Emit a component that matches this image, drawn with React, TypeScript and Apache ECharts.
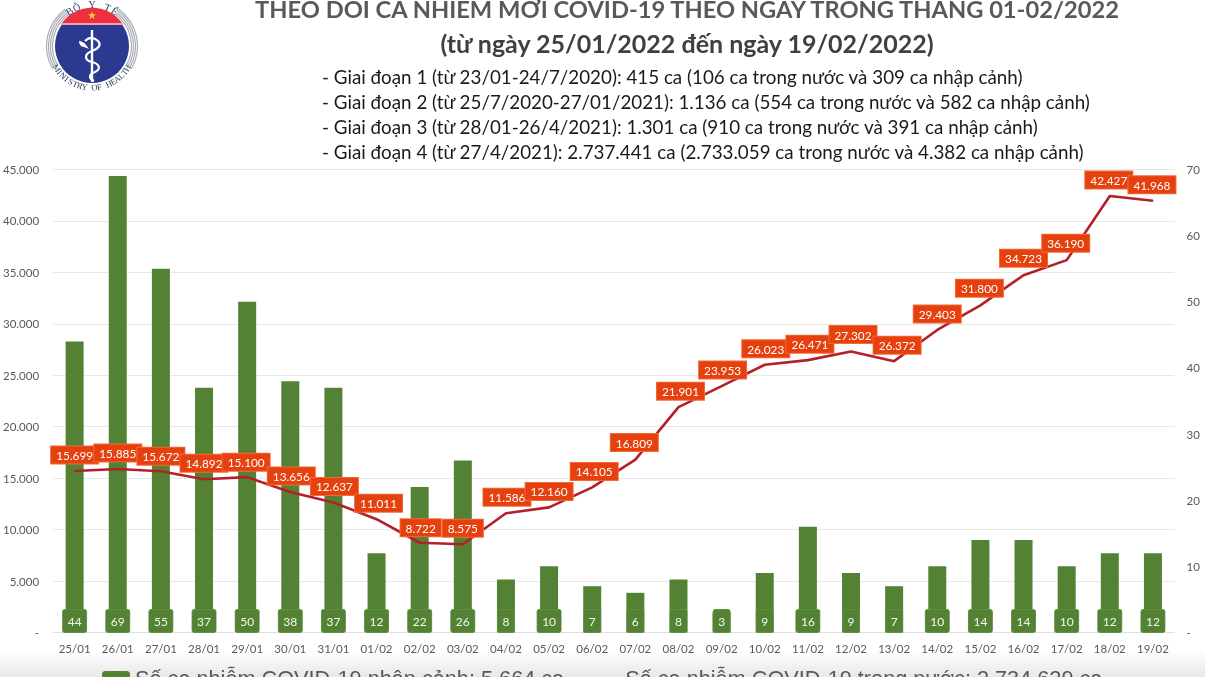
import React, { useEffect, useRef } from "react";
import * as echarts from "echarts";

const categories = ["25/01","26/01","27/01","28/01","29/01","30/01","31/01","01/02","02/02","03/02","04/02","05/02","06/02","07/02","08/02","09/02","10/02","11/02","12/02","13/02","14/02","15/02","16/02","17/02","18/02","19/02"];
const importedCases = [44,69,55,37,50,38,37,12,22,26,8,10,7,6,8,3,9,16,9,7,10,14,14,10,12,12];
const domesticCases = [15699,15885,15672,14892,15100,13656,12637,11011,8722,8575,11586,12160,14105,16809,21901,23953,26023,26471,27302,26372,29403,31800,34723,36190,42427,41968];
const labelDx = [0,0,0,0,-1,1,1,2,1,0,1,0,2,-1,2,1,1,2,2,3,0,-1,0,-1,-1,-1];
const labelDy = [0,0,1,0,1,0,0,0,1,0,0,0,0,-1,0,0,0,0,-1,0,0,-1,-1,-1,0,0];
const titleLines = ["THEO DÕI CA NHIỄM MỚI COVID-19 THEO NGÀY TRONG THÁNG 01-02/2022","(từ ngày 25/01/2022 đến ngày 19/02/2022)"];
const phaseLines = [
  "- Giai đoạn 1 (từ 23/01-24/7/2020): 415 ca (106 ca trong nước và 309 ca nhập cảnh)",
  "- Giai đoạn 2 (từ 25/7/2020-27/01/2021): 1.136 ca (554 ca trong nước và 582 ca nhập cảnh)",
  "- Giai đoạn 3 (từ 28/01-26/4/2021): 1.301 ca (910 ca trong nước và 391 ca nhập cảnh)",
  "- Giai đoạn 4 (từ 27/4/2021): 2.737.441 ca (2.733.059 ca trong nước và 4.382 ca nhập cảnh)",
];
const importedName = "Số ca nhiễm COVID-19 nhập cảnh: 5.664 ca";
const domesticName = "Số ca nhiễm COVID-19 trong nước: 2.734.629 ca";
const FONT = "Lato, 'Open Sans', sans-serif";

echarts.graphic.registerShape("snake", echarts.graphic.extendPath("M-7 4 C-2 -1 3 1 6 4 C10 8 6 12 0 14 C-8 17 -8 23 0 25 C8 27 9 32 3 35 C-3 37 -4 41 2 44", {}));
echarts.graphic.registerShape("leaf", echarts.graphic.extendPath("M0 8 L3 4 C5 1 8 0 10 0 C10 3 8 6 5 6 Z", {}));
echarts.graphic.registerShape("star5", echarts.graphic.extendPath("M0 -4 L1 -1.2 L4 -1.2 L1.6 0.6 L2.5 3.4 L0 1.7 L-2.5 3.4 L-1.6 0.6 L-4 -1.2 L-1 -1.2 Z", {}));
echarts.graphic.registerShape("redCap", echarts.graphic.extendPath("M-30 0 A 37 37 0 0 1 30 0 Z", {}));

function curved(text: string, cx: number, cy: number, r: number, mid: number, step: number, top: boolean, size: number) {
  const n = text.length;
  return text.split("").map((ch, i) => {
    const a = mid + (i - (n - 1) / 2) * step * (top ? -1 : 1);
    const rad = (a * Math.PI) / 180;
    return {
      type: "text", x: cx + r * Math.cos(rad), y: cy - r * Math.sin(rad),
      rotation: ((top ? a - 90 : a + 90) * Math.PI) / 180,
      style: { text: ch, fontSize: size, fontFamily: "'Liberation Serif', serif", fill: "#2e3a5c", textAlign: "center", textVerticalAlign: "middle" },
    };
  });
}

function logo() {
  const cx = 92, cy = 46;
  const arcs: any[] = [];
  [39.5, 41.5, 43.5, 45.5].forEach((r) => {
    [[150, 234], [-54, 30]].forEach(([s, e]) => {
      arcs.push({ type: "arc", shape: { cx, cy, r, startAngle: (s * Math.PI) / 180, endAngle: (e * Math.PI) / 180, clockwise: true }, style: { stroke: "#a9adb5", lineWidth: 1.2, fill: "none" } });
    });
  });
  return [
    ...arcs,
    { type: "circle", shape: { cx, cy, r: 37 }, style: { fill: "#2b3990" } },
    { type: "redCap", x: cx, y: 23, style: { fill: "#ee2f3d" } },
    { type: "rect", shape: { x: cx - 31, y: 23, width: 62, height: 2 }, style: { fill: "#f2a0ae" } },
    { type: "star5", x: cx, y: 15.5, style: { fill: "#f7d23a" } },
    { type: "line", shape: { x1: cx, y1: 30, x2: cx, y2: 82 }, style: { stroke: "#fff", lineWidth: 2.4 } },
    { type: "snake", x: cx, y: 37, style: { stroke: "#fff", lineWidth: 2.2, fill: "none" } },
    { type: "leaf", x: cx - 13, y: 41, scaleX: -1, scaleY: 1, originX: 5, style: { fill: "#fff" } },
    ...curved("BỘ Y TẾ", cx, cy, 41.5, 90, 11, true, 10),
    ...curved("MINISTRY OF HEALTH", cx, cy, 41.5, 270, 6.8, false, 8.5),
  ];
}

const texts = () => [
  { type: "rect", z: -10, shape: { x: 0, y: 650, width: 1205, height: 27 }, style: { fill: new echarts.graphic.LinearGradient(0, 0, 0, 1, [{ offset: 0, color: "#ffffff" }, { offset: 1, color: "#e8e8e8" }]) } },
  ...logo(),
  { type: "text", x: 687, y: 9, style: { text: titleLines[0], font: `bold 23.7px ${FONT}`, fill: "#595959", textAlign: "center", textVerticalAlign: "middle" } },
  { type: "text", x: 687, y: 43, style: { text: titleLines[1], font: `bold 25px ${FONT}`, fill: "#404040", textAlign: "center", textVerticalAlign: "middle" } },
  ...phaseLines.map((t, i) => ({ type: "text", x: 322, y: 76 + i * 25, style: { text: t, font: `18.8px ${FONT}`, fill: "#1a1a1a", textAlign: "left", textVerticalAlign: "middle" } })),
];

export default function App() {
  const ref = useRef<HTMLDivElement>(null);
  useEffect(() => {
    const chart = echarts.init(ref.current!, undefined, { renderer: "svg" });
    const axisText = { color: "#595959", fontSize: 11.5, fontFamily: FONT };
    chart.setOption({
      animation: false,
      backgroundColor: "#fff",
      grid: { left: 51.5, right: 30.5, top: 169.5, bottom: 44.5 },
      legend: {
        left: 97, top: 662, itemWidth: 28, itemHeight: 14, itemGap: 27,
        textStyle: { color: "#595959", fontSize: 21.7, fontFamily: "'Liberation Sans', sans-serif" },
        data: [importedName, { name: domesticName, itemStyle: { opacity: 0 }, lineStyle: { opacity: 0 } }],
      },
      xAxis: {
        type: "category", data: categories,
        axisLine: { lineStyle: { color: "#dedede" } }, axisTick: { show: false },
        axisLabel: { ...axisText, margin: 10, interval: 0 },
      },
      yAxis: [
        { type: "value", min: 0, max: 45000, interval: 5000, position: "left",
          axisLine: { show: false }, axisTick: { show: false },
          splitLine: { lineStyle: { color: "#e8e8e8", width: 1 } },
          axisLabel: { ...axisText, margin: 14, formatter: (v: number) => (v === 0 ? "-" : v.toLocaleString("de-DE")) } },
        { type: "value", min: 0, max: 70, interval: 10, position: "right",
          axisLine: { show: false }, axisTick: { show: false }, splitLine: { show: false },
          axisLabel: { ...axisText, margin: 12, formatter: (v: number) => (v === 0 ? "-" : String(v)) } },
      ],
      series: [
        { name: importedName, type: "bar", yAxisIndex: 1, data: importedCases, barWidth: 18, z: 2,
          itemStyle: { color: "#548235" },
          label: { show: true, position: "insideBottom", distance: 0, color: "#f4f8e8", fontSize: 12, fontFamily: FONT,
            backgroundColor: "#548235", borderColor: "#6f9a4d", borderWidth: 0.5, borderRadius: 2, padding: [6, 5, 5, 5] } },
        { name: domesticName, type: "line", yAxisIndex: 0, z: 5, symbol: "circle", symbolSize: 1, showSymbol: true,
          lineStyle: { color: "#b4202a", width: 2.6 },
          itemStyle: { color: "#b4202a" },
          data: domesticCases.map((v, i) => ({
            value: v,
            label: { offset: [labelDx[i], labelDy[i]] },
          })),
          label: { show: true, position: "top", distance: 7, color: "#fff", fontSize: 11.8, fontFamily: FONT,
            backgroundColor: "#e6400f", borderColor: "#f26a35", borderWidth: 1, padding: [3, 5, 2, 5],
            formatter: (p: any) => Number(p.value).toLocaleString("de-DE") } },
      ],
      graphic: { elements: texts() },
    });
    return () => chart.dispose();
  }, []);
  return <div ref={ref} style={{ position: "absolute", left: 0, top: 0, width: 1205, height: 677, overflow: "hidden", filter: "blur(0.4px)" }} />;
}
